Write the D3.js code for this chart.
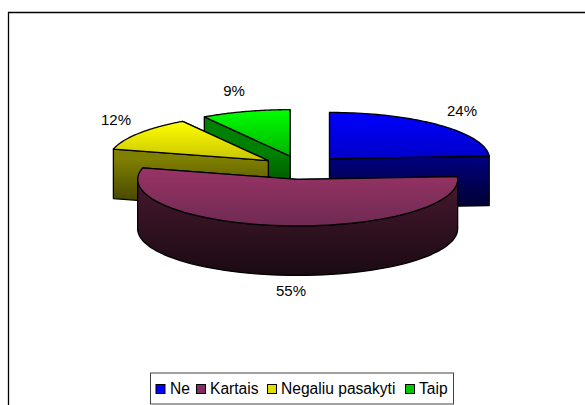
<!DOCTYPE html>
<html><head><meta charset="utf-8">
<style>html,body{margin:0;padding:0;background:#fff}svg{display:block}</style>
<script src="https://d3js.org/d3.v7.min.js"></script></head>
<body><svg id="c" width="585" height="405"></svg>
<script>
const categories = ["Ne","Kartais","Negaliu pasakyti","Taip"];
const values = [24,55,12,9];
const percentLabels = ["24%","55%","12%","9%"];
const topColors = [["#0000ff","#0000c8"],["#993366","#6e2a52"],["#ffff00","#c8c400"],["#00ff00","#00b400"]];
const sideColors = [["#000080","#000030"],["#4d1a33","#1a0a12"],["#808000","#3c3c00"],["#008000","#003c00"]];
const swatchColors = ["#0000ff","#7f2f5f","#e0e000","#00c800"];

const cx=301.5, cy=167.6, rx=160, ry=46.5, depth=49.5, explode=0.256;
const svg=d3.select("#c");
const defs=svg.append("defs");
const pie=d3.pie().sort(null).value(d=>d);
const arcs=pie(values);
const pt=(c,a,dz=0)=>[c.x+rx*Math.sin(a), c.y-ry*Math.cos(a)+dz];
const line=d3.line();
function grad(id,cols,y0,y1){
  const g=defs.append("linearGradient").attr("id",id).attr("gradientUnits","userSpaceOnUse")
    .attr("x1",0).attr("x2",0).attr("y1",y0).attr("y2",y1);
  g.append("stop").attr("offset",0).attr("stop-color",cols[0]);
  g.append("stop").attr("offset",1).attr("stop-color",cols[1]);
}
const sl=arcs.map((a,i)=>{
  const mid=(a.startAngle+a.endAngle)/2;
  const c={x:cx+explode*rx*Math.sin(mid), y:cy-explode*ry*Math.cos(mid)};
  return {a,i,c};
});
const stroke={stroke:"#000","stroke-width":1.3,"stroke-linejoin":"round"};
function draw(pts,fill,g){
  const p=g.append("path").attr("d",line(pts)+"Z").attr("fill",fill);
  Object.entries(stroke).forEach(([k,v])=>p.attr(k,v));
}
const root=svg.append("g");
[3,2,0,1].forEach(i=>{
  const {a,c}=sl[i], g=root.append("g");
  const s=a.startAngle,e=a.endAngle;
  const arcPts=d3.range(0,61).map(k=>pt(c,s+(e-s)*k/60));
  const ys=arcPts.map(p=>p[1]).concat([c.y]);
  const y0=d3.min(ys),y1=d3.max(ys);
  grad("t"+i,topColors[i],y0,y1);
  grad("s"+i,sideColors[i],y0+ (i==1?0:(c.y-y0)*0.95),y1+depth);
  const fs=`url(#s${i})`;
  const wall=ang=>[[c.x,c.y],pt(c,ang),pt(c,ang,depth),[c.x,c.y+depth]];
  draw(wall(e),fs,g);
  draw(wall(s),fs,g);
  const lo=Math.max(s,Math.PI/2),hi=Math.min(e,Math.PI*1.5);
  if(hi>lo){
    const up=d3.range(0,61).map(k=>pt(c,lo+(hi-lo)*k/60));
    const dn=up.map(p=>[p[0],p[1]+depth]).reverse();
    draw(up.concat(dn),fs,g);
  }
  draw([[c.x,c.y]].concat(arcPts),`url(#t${i})`,g);
});

// frame
svg.append("path").attr("d","M8.5,405V12.5H585").attr("fill","none").attr("stroke","#000").attr("stroke-width",1.3);

const font="'Liberation Sans',Arial,sans-serif";
const labelPos=[[462,112],[291,292.5],[116,121.5],[234,92.5]];
svg.selectAll("text.pct").data(percentLabels).join("text").attr("class","pct")
  .attr("x",(d,i)=>labelPos[i][0]).attr("y",(d,i)=>labelPos[i][1])
  .attr("text-anchor","middle").attr("dominant-baseline","middle")
  .attr("font-family",font).attr("font-size",15).attr("fill","#000").text(d=>d);

// legend
svg.append("rect").attr("x",150.5).attr("y",373).attr("width",303).attr("height",31)
  .attr("fill","#fff").attr("stroke","#444").attr("stroke-width",1);
const swX=[155.5,196,267,405], txX=[170,210,281,419];
categories.forEach((t,i)=>{
  svg.append("rect").attr("x",swX[i]+0.5).attr("y",384.5).attr("width",9).attr("height",9)
    .attr("fill",swatchColors[i]).attr("stroke","#000").attr("stroke-width",1);
  svg.append("text").attr("x",txX[i]).attr("y",394).attr("font-family",font).attr("font-size",15.6).attr("fill","#000").text(t);
});
</script></body></html>
